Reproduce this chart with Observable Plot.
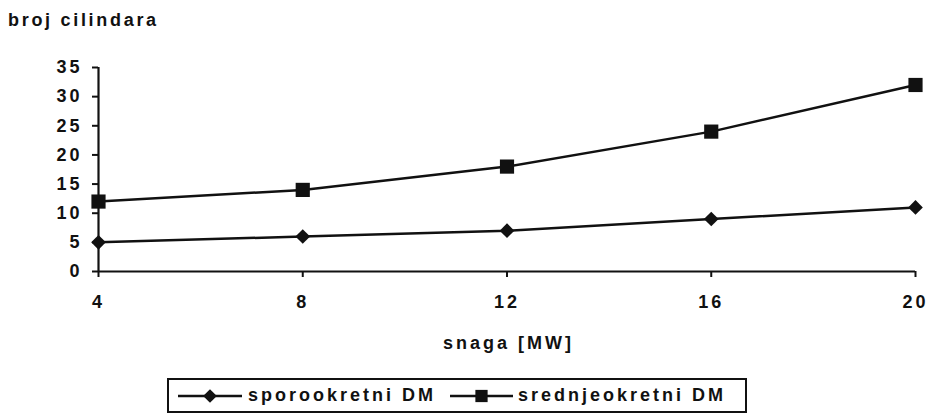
<!DOCTYPE html>
<html>
<head>
<meta charset="utf-8">
<script src="https://cdn.jsdelivr.net/npm/d3@7"></script>
<script src="https://cdn.jsdelivr.net/npm/@observablehq/plot@0.6"></script>
<style>
  html, body { margin: 0; padding: 0; background: #fff; }
  body { width: 929px; height: 416px; position: relative; overflow: hidden; font-family: "Liberation Sans", Arial, sans-serif; color: #111; }
  #title { position: absolute; left: 8px; top: 11px; font-size: 18px; line-height: 18px; font-weight: bold; letter-spacing: 2.7px; white-space: nowrap; }
  #chart { position: absolute; left: 0; top: 40px; }
  #chart svg text { letter-spacing: 3px; }
  #legend { position: absolute; left: 167px; top: 378px; width: 576px; height: 31px; border: 2px solid #111; display: flex; align-items: center; font-size: 18px; font-weight: bold; letter-spacing: 3px; white-space: nowrap; }
  #legend .item { display: flex; align-items: center; }
  #legend svg { display: block; }
</style>
</head>
<body>
<div id="title">broj cilindara</div>
<div id="chart"></div>
<div id="legend"></div>
<script>
const power = [4, 8, 12, 16, 20];
const sporo = [5, 6, 7, 9, 11];
const srednje = [12, 14, 18, 24, 32];
const seriesNames = ["sporookretni DM", "srednjeokretni DM"];
const xTicks = [4, 8, 12, 16, 20];
const yTicks = [0, 5, 10, 15, 20, 25, 30, 35];
const xLabel = "snaga [MW]";

const data = [
  ...power.map((p, i) => ({x: p, y: sporo[i], s: seriesNames[0]})),
  ...power.map((p, i) => ({x: p, y: srednje[i], s: seriesNames[1]}))
];
const symbols = {[seriesNames[0]]: "diamond2", [seriesNames[1]]: "square"};

const chart = Plot.plot({
  width: 929,
  height: 330,
  marginLeft: 98,
  marginRight: 14,
  marginTop: 27,
  marginBottom: 99,
  style: {fontFamily: "Liberation Sans, Arial, sans-serif", fontSize: "18px", fontWeight: "bold", color: "#111", background: "#fff"},
  x: {domain: [4, 20]},
  y: {domain: [0, 35]},
  marks: [
    Plot.axisX({ticks: xTicks, tickSize: 6, tickPadding: 18, fontSize: 18, fontWeight: "bold", label: null, stroke: "#111", strokeWidth: 2}),
    Plot.axisY({ticks: yTicks, tickSize: 6, tickPadding: 10, fontSize: 18, fontWeight: "bold", label: null, stroke: "#111", strokeWidth: 2}),
    Plot.ruleY([0], {stroke: "#111", strokeWidth: 2.2}),
    Plot.ruleX([4], {stroke: "#111", strokeWidth: 2.2}),
    Plot.line(data, {x: "x", y: "y", z: "s", stroke: "#111", strokeWidth: 2.5}),
    Plot.dot(data.filter(d => d.s === seriesNames[0]), {x: "x", y: "y", symbol: "diamond2", r: 6.6, fill: "#111", stroke: "none"}),
    Plot.dot(data.filter(d => d.s === seriesNames[1]), {x: "x", y: "y", symbol: "square", r: 8, fill: "#111", stroke: "none"}),
    Plot.text([xLabel], {frameAnchor: "bottom", dy: 77, dx: 1.5, text: d => d, fontSize: 18, fontWeight: "bold", fill: "#111"})
  ]
});
document.getElementById("chart").appendChild(chart);

// legend
const legend = document.getElementById("legend");
const layout = [{ml: 9, w: 64, gap: 6}, {ml: 14, w: 63, gap: 5}];
seriesNames.forEach((name, i) => {
  const item = document.createElement("div");
  item.className = "item";
  item.style.marginLeft = layout[i].ml + "px";
  const sym = symbols[name];
  const svgNS = "http://www.w3.org/2000/svg";
  const w = layout[i].w;
  const svg = document.createElementNS(svgNS, "svg");
  svg.setAttribute("width", w);
  svg.setAttribute("height", "20");
  const ln = document.createElementNS(svgNS, "line");
  ln.setAttribute("x1", "0"); ln.setAttribute("x2", w);
  ln.setAttribute("y1", "10"); ln.setAttribute("y2", "10");
  ln.setAttribute("stroke", "#111"); ln.setAttribute("stroke-width", "2.5");
  svg.appendChild(ln);
  const p = document.createElementNS(svgNS, "path");
  const symType = sym === "square" ? d3.symbolSquare : d3.symbolDiamond2;
  const size = sym === "square" ? 150 : 120;
  p.setAttribute("d", d3.symbol(symType, size)());
  p.setAttribute("transform", `translate(${w / 2},10)`);
  p.setAttribute("fill", "#111");
  svg.appendChild(p);
  item.appendChild(svg);
  const t = document.createElement("span");
  t.textContent = name;
  t.style.marginLeft = layout[i].gap + "px";
  item.appendChild(t);
  legend.appendChild(item);
});
</script>
</body>
</html>
